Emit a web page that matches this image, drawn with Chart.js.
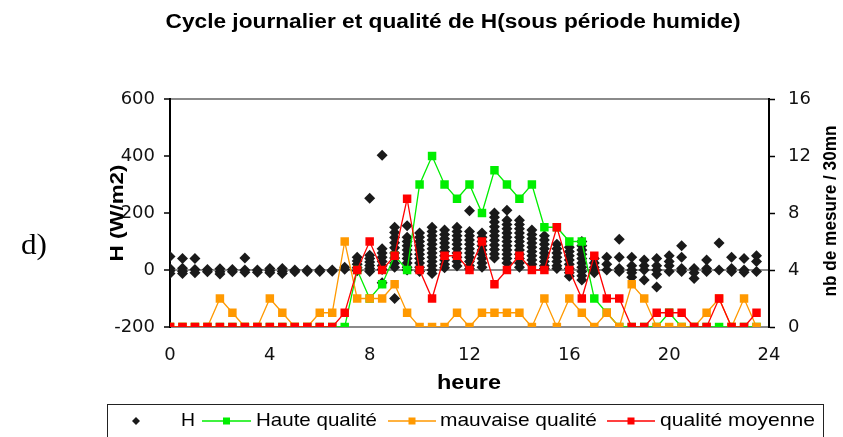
<!DOCTYPE html>
<html lang="fr">
<head>
<meta charset="utf-8">
<title>Cycle journalier et qualité de H</title>
<script src="https://cdn.jsdelivr.net/npm/chart.js@4.4.1/dist/chart.umd.min.js"></script>
<style>
  html, body { margin: 0; padding: 0; background: #fff; }
  #wrap { width: 843px; height: 437px; }
</style>
</head>
<body>
<div id="wrap"><canvas id="myChart" width="843" height="437"></canvas></div>
<script>
// Half-hour steps of the day
const hours = [0, 0.5, 1, 1.5, 2, 2.5, 3, 3.5, 4, 4.5, 5, 5.5, 6, 6.5, 7, 7.5,
    8, 8.5, 9, 9.5, 10, 10.5, 11, 11.5, 12, 12.5, 13, 13.5, 14, 14.5, 15, 15.5,
    16, 16.5, 17, 17.5, 18, 18.5, 19, 19.5, 20, 20.5, 21, 21.5, 22, 22.5, 23, 23.5];

// Number of measures per 30mn (right axis)
const hauteQualite = [0, 0, 0, 0, 0, 0, 0, 0, 0, 0, 0, 0, 0, 0, 0, 4,
    2, 3, 5, 4, 10, 12, 10, 9, 10, 8, 11, 10, 9, 10, 7, 7,
    6, 6, 2, 1, 0, 0, 0, 0, 1, 0, 0, 0, 0, 0, 0, 0];
const mauvaiseQualite = [0, 0, 0, 0, 2, 1, 0, 0, 2, 1, 0, 0, 1, 1, 6, 2,
    2, 2, 3, 1, 0, 0, 0, 1, 0, 1, 1, 1, 1, 0, 2, 0,
    2, 1, 0, 1, 0, 3, 2, 0, 0, 0, 0, 1, 2, 0, 2, 0];
const qualiteMoyenne = [0, 0, 0, 0, 0, 0, 0, 0, 0, 0, 0, 0, 0, 0, 1, 4,
    6, 4, 5, 9, 4, 2, 5, 5, 4, 6, 3, 4, 5, 4, 4, 7,
    4, 2, 5, 2, 2, 0, 0, 1, 1, 1, 0, 0, 2, 0, 0, 1];

// H values (W/m2), one list per half-hour
const hMesures = [
    [47, 5, -3, -12], [40, 6, -4, -12], [40, 2, -10], [2, -6],
    [4, -6, -14], [2, -6], [42, 0, -8], [0, -8],
    [5, -3, -10], [5, -5, -12], [0, -6], [0, -5],
    [1, -5], [0, -4], [10, 3], [45, 32, 20, 8, -3],
    [252, 52, 40, 28, 16, 5, -5], [403, 75, 60, 45, 30, 15, 2, -45],
    [150, 132, 114, 96, 78, 60, 42, 24, 10, -100], [155, 115, 100, 85, 70, 55, 40, 25, 10, 0],
    [130, 115, 100, 85, 70, 55, 40, 25, 10, -5], [150, 135, 120, 105, 90, 75, 60, 45, 30, 15, 0, -12],
    [140, 125, 110, 95, 80, 65, 50, 35, 20, 8], [150, 135, 120, 105, 90, 75, 60, 45, 30, 14],
    [208, 135, 120, 105, 90, 75, 60, 45, 30, 15, 4], [130, 115, 100, 85, 70, 55, 40, 25, 10],
    [200, 185, 168, 152, 136, 120, 104, 88, 72, 56, 42], [210, 175, 160, 145, 130, 115, 100, 85, 70, 55, 40, 25],
    [175, 160, 145, 130, 115, 100, 85, 70, 55, 40, 25, 10], [140, 125, 110, 95, 80, 65, 50, 35, 20],
    [120, 105, 90, 75, 60, 45, 30, 15, 5], [90, 75, 60, 45, 30, 15, 5],
    [80, 65, 50, 35, 20, 5, -10, -22], [100, 85, 70, 55, 40, 25, 10, -5, -20, -35],
    [40, 25, 10, 0, -10], [45, 20, 0],
    [108, 45, 5, -5], [45, 15, 0, -10, -25],
    [35, 15, 0, -35], [40, 15, 0, -15, -60],
    [50, 30, 15, -5], [85, 45, 5, -5],
    [5, -10, -30], [35, 5, -5],
    [95, 0], [45, 5, -5],
    [40, 0, -8], [50, 30, -5]
];

// Tick labels
const heureTicks = [0, 4, 8, 12, 16, 20, 24];
const hTicks = [-200, 0, 200, 400, 600];
const nbTicks = [0, 4, 8, 12, 16];

const titre = 'Cycle journalier et qualité de H(sous période humide)';

// Build point lists for the library
const hPoints = [];
hMesures.forEach((col, i) => col.forEach(v => hPoints.push({ x: hours[i], y: v })));
const toXY = arr => arr.map((v, i) => ({ x: hours[i], y: v }));

// Draw a text squeezed/stretched to a given width
function fitText(ctx, text, cx, cy, width, font, rot) {
    ctx.save();
    ctx.font = font;
    const w = ctx.measureText(text).width;
    ctx.translate(cx, cy);
    if (rot) ctx.rotate(rot);
    ctx.scale(width / w, 1);
    ctx.textAlign = 'center';
    ctx.textBaseline = 'middle';
    ctx.fillStyle = '#000';
    ctx.fillText(text, 0, 0);
    ctx.restore();
}

function square(ctx, x, y, s, color) {
    ctx.fillStyle = color;
    ctx.fillRect(x - s / 2, y - s / 2, s, s);
}

// Title, axis titles, "d)" and legend box
const decor = {
    id: 'decor',
    afterDraw(chart) {
        const ctx = chart.ctx;
        fitText(ctx, titre, 453, 22, 575, 'bold 20px "Liberation Sans"');
        fitText(ctx, 'd)', 34, 246, 26, '29px "Liberation Serif"');
        fitText(ctx, 'H (W/m2)', 118, 213, 97, 'bold 19px "Liberation Sans"', -Math.PI / 2);
        fitText(ctx, 'nb de mesure / 30mn', 831, 211, 171, 'bold 19px "Liberation Sans"', -Math.PI / 2);
        fitText(ctx, 'heure', 469, 383, 64, 'bold 20px "Liberation Sans"');

        // legend
        const ly = 421;
        ctx.save();
        ctx.strokeStyle = '#222';
        ctx.lineWidth = 1;
        ctx.strokeRect(107.5, 404.5, 716, 40);
        // diamond
        ctx.fillStyle = '#1a1a1a';
        ctx.beginPath();
        ctx.moveTo(136, ly - 4); ctx.lineTo(140, ly); ctx.lineTo(136, ly + 4); ctx.lineTo(132, ly);
        ctx.closePath();
        ctx.fill();
        const items = [
            { ds: 1, x0: 202, x1: 251, text: 'Haute qualité', tx: 256, tw: 121 },
            { ds: 2, x0: 388, x1: 436, text: 'mauvaise qualité', tx: 440, tw: 157 },
            { ds: 3, x0: 607, x1: 655, text: 'qualité moyenne', tx: 660, tw: 155 }
        ];
        items.forEach(it => {
            const color = chart.data.datasets[it.ds].borderColor;
            ctx.strokeStyle = color;
            ctx.lineWidth = 1.3;
            ctx.beginPath();
            ctx.moveTo(it.x0, ly); ctx.lineTo(it.x1, ly);
            ctx.stroke();
            square(ctx, (it.x0 + it.x1) / 2, ly, 7, color);
            fitText(ctx, it.text, it.tx + it.tw / 2, ly, it.tw, '19px "Liberation Sans"');
        });
        fitText(ctx, 'H', 188, ly, 14, '19px "Liberation Sans"');
        ctx.restore();
    }
};

const tickFont = { family: '"DejaVu Sans"', size: 18 };
const lineDs = (label, data, color, order) => ({
    type: 'line',
    label: label,
    data: toXY(data),
    yAxisID: 'y1',
    borderColor: color,
    backgroundColor: color,
    borderWidth: 1.3,
    pointStyle: 'rect',
    pointRadius: 6,
    pointBorderWidth: 0,
    pointHoverRadius: 6,
    tension: 0,
    order: order
});

const ctx = document.getElementById('myChart').getContext('2d');
const myChart = new Chart(ctx, {
    type: 'scatter',
    data: {
        datasets: [
            {
                type: 'scatter',
                label: 'H',
                data: hPoints,
                yAxisID: 'y',
                pointStyle: 'rectRot',
                pointRadius: 5.5,
                pointBorderWidth: 0,
                backgroundColor: '#1a1a1a',
                borderColor: '#1a1a1a',
                order: 4
            },
            lineDs('Haute qualité', hauteQualite, '#00ee00', 3),
            lineDs('mauvaise qualité', mauvaiseQualite, '#ff9900', 2),
            lineDs('qualité moyenne', qualiteMoyenne, '#ff0000', 1)
        ]
    },
    options: {
        responsive: false,
        animation: false,
        layout: { padding: { top: 99, left: 0, right: 0, bottom: 0 } },
        plugins: {
            legend: { display: false },
            title: { display: false },
            tooltip: { enabled: false }
        },
        scales: {
            x: {
                type: 'linear',
                min: 0,
                max: 24,
                afterBuildTicks: s => { s.ticks = heureTicks.map(v => ({ value: v })); },
                afterFit: s => { s.height = 110; },
                grid: { display: false, drawTicks: false },
                border: { display: false },
                ticks: { font: tickFont, color: '#111', padding: 18, maxRotation: 0 }
            },
            y: {
                position: 'left',
                min: -200,
                max: 600,
                afterBuildTicks: s => { s.ticks = hTicks.map(v => ({ value: v })); },
                afterFit: s => { s.width = 170; },
                border: { display: true, color: '#000', width: 2 },
                grid: {
                    color: c => (c.tick && [600, 0, -200].includes(c.tick.value)) ? '#8a8a8a' : 'rgba(0,0,0,0)',
                    lineWidth: 2,
                    tickColor: '#000',
                    tickLength: 6,
                    tickWidth: 1.5
                },
                ticks: { font: tickFont, color: '#111', padding: 9 }
            },
            y1: {
                position: 'right',
                min: 0,
                max: 16,
                afterBuildTicks: s => { s.ticks = nbTicks.map(v => ({ value: v })); },
                afterFit: s => { s.width = 74; },
                border: { display: true, color: '#000', width: 2 },
                grid: {
                    drawOnChartArea: false,
                    tickColor: '#000',
                    tickLength: 6,
                    tickWidth: 1.5
                },
                ticks: { font: tickFont, color: '#111', padding: 13 }
            }
        }
    },
    plugins: [decor]
});
</script>
</body>
</html>
